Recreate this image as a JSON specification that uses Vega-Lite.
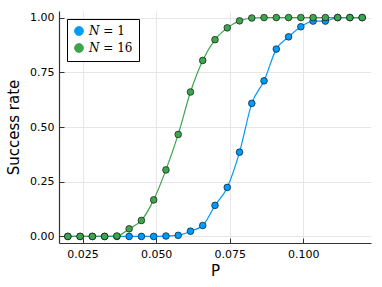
{
  "$schema": "https://vega.github.io/schema/vega-lite/v6.json",
  "width": 312,
  "height": 232,
  "autosize": {"type": "none"},
  "padding": {"left": 59, "top": 11, "right": 11, "bottom": 44},
  "background": "white",
  "data": {"values": [
    {"P": 0.02, "rate": 0, "N": "𝑁 = 1"},
    {"P": 0.024167, "rate": 0, "N": "𝑁 = 1"},
    {"P": 0.028333, "rate": 0, "N": "𝑁 = 1"},
    {"P": 0.0325, "rate": 0, "N": "𝑁 = 1"},
    {"P": 0.036667, "rate": 0, "N": "𝑁 = 1"},
    {"P": 0.040833, "rate": 0, "N": "𝑁 = 1"},
    {"P": 0.045, "rate": 0, "N": "𝑁 = 1"},
    {"P": 0.049167, "rate": 0, "N": "𝑁 = 1"},
    {"P": 0.053333, "rate": 0.002, "N": "𝑁 = 1"},
    {"P": 0.0575, "rate": 0.005, "N": "𝑁 = 1"},
    {"P": 0.061667, "rate": 0.024, "N": "𝑁 = 1"},
    {"P": 0.065833, "rate": 0.05, "N": "𝑁 = 1"},
    {"P": 0.07, "rate": 0.142, "N": "𝑁 = 1"},
    {"P": 0.074167, "rate": 0.224, "N": "𝑁 = 1"},
    {"P": 0.078333, "rate": 0.385, "N": "𝑁 = 1"},
    {"P": 0.0825, "rate": 0.608, "N": "𝑁 = 1"},
    {"P": 0.086667, "rate": 0.711, "N": "𝑁 = 1"},
    {"P": 0.090833, "rate": 0.856, "N": "𝑁 = 1"},
    {"P": 0.095, "rate": 0.912, "N": "𝑁 = 1"},
    {"P": 0.099167, "rate": 0.958, "N": "𝑁 = 1"},
    {"P": 0.103333, "rate": 0.984, "N": "𝑁 = 1"},
    {"P": 0.1075, "rate": 0.984, "N": "𝑁 = 1"},
    {"P": 0.111667, "rate": 1, "N": "𝑁 = 1"},
    {"P": 0.115833, "rate": 1, "N": "𝑁 = 1"},
    {"P": 0.12, "rate": 1, "N": "𝑁 = 1"},
    {"P": 0.02, "rate": 0, "N": "𝑁 = 16"},
    {"P": 0.024167, "rate": 0, "N": "𝑁 = 16"},
    {"P": 0.028333, "rate": 0, "N": "𝑁 = 16"},
    {"P": 0.0325, "rate": 0, "N": "𝑁 = 16"},
    {"P": 0.036667, "rate": 0.002, "N": "𝑁 = 16"},
    {"P": 0.040833, "rate": 0.035, "N": "𝑁 = 16"},
    {"P": 0.045, "rate": 0.073, "N": "𝑁 = 16"},
    {"P": 0.049167, "rate": 0.167, "N": "𝑁 = 16"},
    {"P": 0.053333, "rate": 0.304, "N": "𝑁 = 16"},
    {"P": 0.0575, "rate": 0.466, "N": "𝑁 = 16"},
    {"P": 0.061667, "rate": 0.66, "N": "𝑁 = 16"},
    {"P": 0.065833, "rate": 0.804, "N": "𝑁 = 16"},
    {"P": 0.07, "rate": 0.899, "N": "𝑁 = 16"},
    {"P": 0.074167, "rate": 0.953, "N": "𝑁 = 16"},
    {"P": 0.078333, "rate": 0.985, "N": "𝑁 = 16"},
    {"P": 0.0825, "rate": 0.998, "N": "𝑁 = 16"},
    {"P": 0.086667, "rate": 1, "N": "𝑁 = 16"},
    {"P": 0.090833, "rate": 1, "N": "𝑁 = 16"},
    {"P": 0.095, "rate": 1, "N": "𝑁 = 16"},
    {"P": 0.099167, "rate": 1, "N": "𝑁 = 16"},
    {"P": 0.103333, "rate": 1, "N": "𝑁 = 16"},
    {"P": 0.1075, "rate": 1, "N": "𝑁 = 16"},
    {"P": 0.111667, "rate": 1, "N": "𝑁 = 16"},
    {"P": 0.115833, "rate": 1, "N": "𝑁 = 16"},
    {"P": 0.12, "rate": 1, "N": "𝑁 = 16"}
  ]},
  "encoding": {
    "x": {"field": "P", "type": "quantitative",
      "scale": {"domain": [0.017, 0.123], "nice": false, "zero": false},
      "axis": {"title": "P", "values": [0.025, 0.05, 0.075, 0.1], "format": ".3f",
        "tickSize": -5, "labelPadding": 10, "titlePadding": 4}},
    "y": {"field": "rate", "type": "quantitative",
      "scale": {"domain": [-0.03, 1.03], "nice": false, "zero": false},
      "axis": {"title": "Success rate", "values": [0, 0.25, 0.5, 0.75, 1], "format": ".2f",
        "tickSize": -5, "labelPadding": 10, "titlePadding": 8}},
    "color": {"field": "N", "type": "nominal",
      "scale": {"domain": ["𝑁 = 1", "𝑁 = 16"], "range": ["#009AFA", "#3EA44E"]},
      "legend": {"title": null, "orient": "top-left", "offset": 8,
        "strokeColor": "#000000", "fillColor": "white", "padding": 6,
        "symbolType": "circle", "symbolSize": 80, "symbolStrokeColor": "#000000", "symbolStrokeWidth": 0.8,
        "labelFont": "DejaVu Serif", "labelFontSize": 12, "labelColor": "#000000", "rowPadding": 3, "symbolOpacity": 1}}
  },
  "layer": [
    {"mark": {"type": "line", "interpolate": "monotone", "strokeWidth": 1.2}},
    {"mark": {"type": "point", "filled": true, "size": 45, "stroke": "#000000", "strokeWidth": 0.6, "opacity": 1}}
  ],
  "config": {
    "view": {"stroke": null},
    "axis": {
      "domainColor": "#333333", "domainWidth": 1.2, "tickColor": "#333333", "tickWidth": 1,
      "grid": true, "gridColor": "#e6e6e6", "gridWidth": 1,
      "labelFont": "DejaVu Sans", "labelFontSize": 11, "labelColor": "#000000",
      "titleFont": "DejaVu Sans", "titleFontSize": 15, "titleFontWeight": "normal", "titleColor": "#000000"
    }
  }
}
